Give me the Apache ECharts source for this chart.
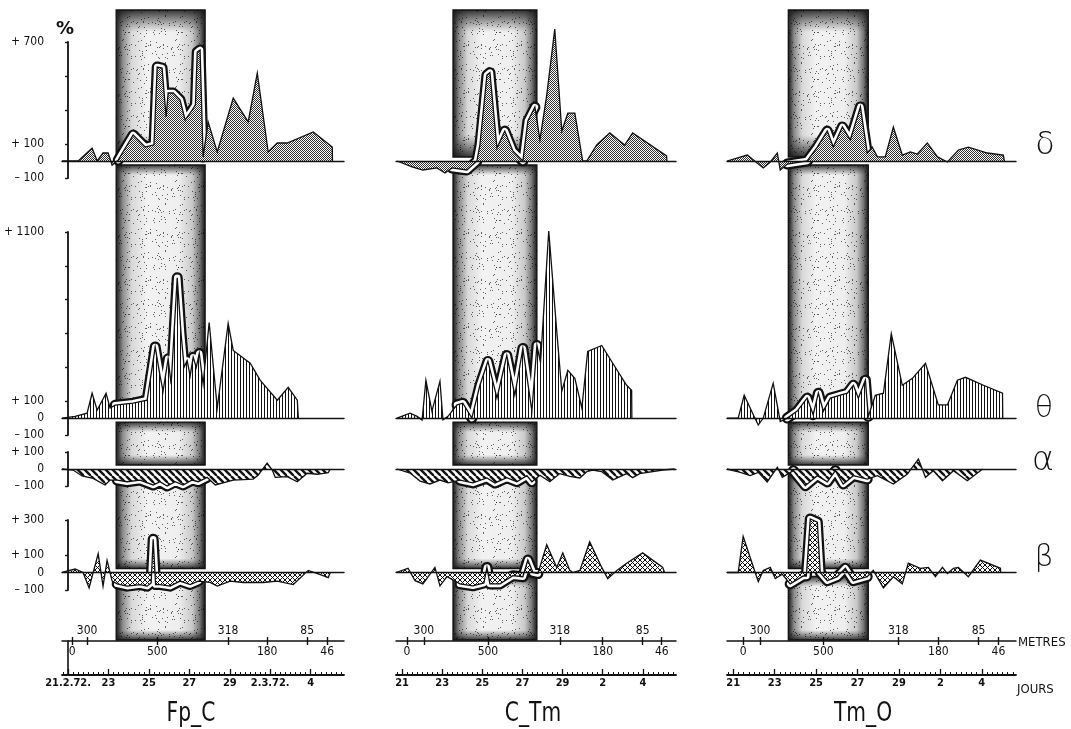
<!DOCTYPE html>
<html>
<head>
<meta charset="utf-8">
<script src="https://cdn.jsdelivr.net/npm/echarts@6/dist/echarts.min.js"></script>
<style>
  html, body { margin: 0; padding: 0; background: #fff; }
  #chart { width: 1071px; height: 729px; }
</style>
</head>
<body>
<div id="chart"></div>
<script>
// ---------------------------------------------------------------------------
// Data. x = days counted from 21.2.72 (day 0), y = % change of band power.
// ---------------------------------------------------------------------------
const stations = ['Fp_C', 'C_Tm', 'Tm_O'];
const rhythms = ['δ', 'θ', 'α', 'β'];

// shaded period (days) for each station
const periodStart = [2.38, 2.54, 2.66];
const periodEnd = [6.78, 6.72, 6.52];

// --- Fp_C
const deltaFpC = [[-0.3,0],[0.5,0],[1.19,76],[1.44,0],[1.73,47],[1.98,47],[2.18,-24],[2.48,5],[3.22,153],[3.81,82],[4.25,95],[4.41,553],[4.65,547],[4.85,259],[4.95,400],[5.2,400],[5.54,359],[5.79,241],[6.14,300],[6.3,330],[6.39,641],[6.53,653],[6.68,24],[6.93,230],[7.38,53],[8.17,370],[8.91,230],[9.36,517],[9.9,53],[10.35,106],[10.84,106],[12.13,171],[13.07,82],[13.08,0]];
const thetaFpC = [[-0.3,0],[0.35,10],[0.94,29],[1.19,147],[1.44,47],[1.88,147],[2.08,59],[2.33,76],[3.22,88],[3.91,106],[4.16,300],[4.31,420],[4.55,250],[4.7,160],[4.95,350],[5.1,200],[5.25,520],[5.4,829],[5.59,500],[5.74,300],[5.89,340],[6.04,250],[6.19,360],[6.34,300],[6.49,382],[6.68,200],[6.98,565],[7.38,60],[7.92,559],[8.17,400],[8.37,382],[9.01,324],[9.5,224],[10.35,106],[10.89,182],[11.34,106],[11.39,0]];
const alphaFpC = [[-0.3,0],[0.25,-6],[0.69,-41],[1.24,-55],[1.83,-94],[2.08,-65],[2.43,-65],[2.92,-75],[3.56,-65],[4.21,-94],[4.55,-75],[4.9,-100],[5.3,-75],[5.69,-94],[6.14,-65],[6.44,-75],[6.88,-49],[7.28,-94],[8.17,-65],[9.16,-59],[9.41,-35],[9.85,35],[10.1,-6],[10.25,-49],[10.84,-45],[11.34,-75],[11.83,-25],[12.33,-31],[12.87,-22],[12.97,0]];
const betaFpC = [[-0.3,0],[0.35,20],[0.74,0],[1.04,-88],[1.49,108],[1.73,-78],[1.93,69],[2.18,-49],[2.43,-65],[2.92,-78],[3.56,-69],[3.91,-78],[4.11,-60],[4.21,190],[4.33,-69],[4.55,-69],[5.05,-78],[5.54,-49],[6.04,-69],[6.44,-49],[7.03,-57],[7.38,-78],[8.02,-49],[8.66,-57],[9.65,-57],[10.35,-49],[11.14,-69],[11.88,12],[12.48,-12],[12.87,-29],[12.97,0]];

// --- C_Tm
const deltaCTm = [[-0.25,0],[0.5,-35],[1.04,-53],[1.74,-41],[2.14,-71],[2.49,-41],[3.23,-53],[3.73,0],[3.88,94],[4.23,506],[4.38,520],[4.73,76],[5.12,176],[5.52,59],[6.02,0],[6.27,235],[6.62,317],[6.87,124],[7.21,388],[7.61,776],[7.96,176],[8.26,282],[8.61,282],[9.0,0],[9.2,0],[9.7,94],[10.35,165],[11.09,94],[11.49,165],[13.18,30],[13.2,0]];
const thetaCTm = [[-0.25,0],[0.4,29],[0.75,10],[1.0,-12],[1.19,224],[1.49,41],[1.89,218],[2.04,-10],[2.29,10],[2.74,78],[3.03,88],[3.48,0],[3.88,194],[4.28,335],[4.73,118],[5.22,370],[5.62,135],[6.02,412],[6.47,41],[6.72,429],[6.9,330],[7.31,1106],[7.71,512],[7.96,159],[8.26,282],[8.61,235],[8.96,59],[9.25,394],[9.95,429],[10.5,324],[11.19,194],[11.44,165],[11.45,0]];
const alphaCTm = [[-0.25,0],[0.4,-24],[0.9,-71],[1.39,-88],[1.89,-65],[2.29,-82],[2.89,-65],[3.53,-82],[4.23,-53],[4.63,-82],[5.22,-51],[5.72,-75],[6.22,-39],[6.47,-75],[6.87,-37],[7.36,-75],[7.86,-27],[8.36,-43],[8.86,-53],[9.2,-16],[9.5,-6],[9.95,-16],[10.5,-65],[11.19,-27],[11.49,-51],[11.84,-27],[12.99,-6],[13.58,0]];
const betaCTm = [[-0.3,0],[0.3,24],[0.65,-47],[1.04,-65],[1.64,29],[1.89,-76],[2.24,-24],[2.89,-65],[3.53,-76],[4.08,-60],[4.23,29],[4.38,-65],[4.88,-65],[5.52,-18],[6.02,-24],[6.27,71],[6.52,0],[6.77,-6],[7.21,159],[7.71,29],[8.01,112],[8.36,12],[8.51,0],[8.86,12],[9.35,176],[9.95,29],[10.25,-35],[10.7,12],[11.19,53],[11.99,112],[12.99,29],[13.08,0]];

// --- Tm_O
const deltaTmO = [[-0.3,0],[0.68,35],[1.45,-41],[1.79,-6],[2.13,47],[2.27,-53],[2.61,-18],[3.57,0],[4.06,82],[4.54,176],[4.83,82],[5.27,200],[5.65,124],[6.14,318],[6.47,47],[6.71,82],[6.96,24],[7.34,24],[7.73,200],[8.16,35],[8.55,53],[8.89,41],[9.37,106],[9.86,24],[10.34,-6],[10.87,65],[11.35,82],[12.27,47],[13.04,35],[13.09,0]];
const thetaTmO = [[-0.3,0],[0.24,0],[0.53,135],[0.97,20],[1.21,-41],[1.45,0],[1.93,206],[2.27,-20],[2.61,0],[3.09,41],[3.57,118],[3.86,20],[4.11,147],[4.35,41],[4.69,118],[5.17,135],[5.51,147],[5.8,194],[6.04,118],[6.38,224],[6.52,10],[6.86,135],[7.25,147],[7.63,500],[8.16,194],[8.65,235],[9.28,324],[9.9,78],[10.34,78],[10.82,224],[11.21,241],[12.08,194],[13.0,147],[13.01,0]];
const alphaTmO = [[-0.3,0],[0.34,-20],[0.82,-39],[1.21,-20],[1.64,-76],[2.13,10],[2.37,-49],[2.9,-10],[3.48,-98],[4.06,-39],[4.54,-76],[4.93,-10],[5.31,-88],[5.8,-39],[6.47,-59],[6.96,-39],[7.73,-88],[8.41,-29],[8.94,59],[9.28,-49],[9.66,-10],[10.1,-69],[10.63,-10],[11.3,-69],[11.93,-10],[12.03,0]];
const betaTmO = [[-0.3,0],[0.24,0],[0.48,206],[1.06,0],[1.21,-53],[1.45,12],[1.79,29],[2.03,-35],[2.37,-10],[2.75,-65],[3.38,-20],[3.53,-20],[3.72,306],[4.06,288],[4.2,0],[4.54,-47],[5.02,-24],[5.41,24],[5.8,-47],[6.47,-24],[6.76,12],[7.25,-88],[7.73,-24],[8.16,-65],[8.45,53],[9.03,24],[9.42,29],[9.76,-24],[10.1,29],[10.34,-6],[10.63,24],[10.87,29],[11.35,-24],[11.93,71],[12.9,24],[12.91,0]];

// y scales per rhythm
const yRanges = [[-100, 700], [-100, 1100], [-100, 100], [-100, 300]];
const yLabelValues = [[-100, 0, 100, 700], [-100, 0, 100, 1100], [-100, 0, 100], [-100, 0, 100, 300]];
const yTickValues = [[-100, 100, 300, 500, 700], [-100, 100, 300, 500, 700, 900, 1100], [-100, 100], [-100, 100, 300]];

// distance scale (metres) under each station
const metreLabels = ['0', '300', '500', '318', '180', '85', '46'];
const metrePosFpC = [0.2, 0.94, 4.41, 7.92, 9.85, 11.83, 12.82];
const metrePosCTm = [0.25, 1.09, 4.28, 7.86, 10.0, 11.99, 12.94];
const metrePosTmO = [0.48, 1.30, 4.35, 7.97, 9.90, 11.84, 12.80];

// day scale
const dayTicks = [0, 2, 4, 6, 8, 10, 12];
const dayLabelsFpC = ['21.2.72.', '23', '25', '27', '29', '2.3.72.', '4'];
const dayLabels = ['21', '23', '25', '27', '29', '2', '4'];

// ---------------------------------------------------------------------------
const panels = [
  [deltaFpC, deltaCTm, deltaTmO],
  [thetaFpC, thetaCTm, thetaTmO],
  [alphaFpC, alphaCTm, alphaTmO],
  [betaFpC, betaCTm, betaTmO]
];
const metrePos = [metrePosFpC, metrePosCTm, metrePosTmO];
const dayLabelSets = [dayLabelsFpC, dayLabels, dayLabels];

const FONT = "'DejaVu Sans Condensed', 'Liberation Sans Narrow', 'DejaVu Sans', sans-serif";
const X_MIN = -0.3, X_MAX = 13.65;
const rowLayout = [
  { top: 42, height: 136 },
  { top: 232, height: 203 },
  { top: 452, height: 34 },
  { top: 520, height: 70 }
];
const colLayout = [
  { left: 62, width: 282 },
  { left: 396, width: 280 },
  { left: 727, width: 289 }
];
const scaleTop = 641, scaleHeight = 34;

// fill textures
function pattern(w, h, draw, transparent) {
  const cv = document.createElement('canvas');
  cv.width = w; cv.height = h;
  const g = cv.getContext('2d');
  if (!transparent) { g.fillStyle = '#fff'; g.fillRect(0, 0, w, h); }
  draw(g, w, h);
  return { image: cv, repeat: 'repeat' };
}
const stipple = pattern(4, 4, g => {
  g.fillStyle = '#333';
  [[0,0],[2,0],[1,1],[3,1],[0,2],[2,2],[3,3],[1,3]].forEach(p => g.fillRect(p[0], p[1], 1, 1));
});
const vertHatch = pattern(3, 4, g => { g.fillStyle = '#111'; g.fillRect(0, 0, 1, 4); });
const diagHatch = pattern(7, 7, g => {
  g.strokeStyle = '#111'; g.lineWidth = 2.4;
  [-7, 0, 7].forEach(k => { g.beginPath(); g.moveTo(k, 0); g.lineTo(k + 7, 7); g.stroke(); });
});
const crossHatch = pattern(5, 5, g => {
  g.strokeStyle = '#111'; g.lineWidth = 1;
  [-5, 0, 5].forEach(k => {
    g.beginPath(); g.moveTo(k, 0); g.lineTo(k + 5, 5); g.stroke();
    g.beginPath(); g.moveTo(k + 5, 0); g.lineTo(k, 5); g.stroke();
  });
});
const grain = pattern(53, 47, g => {
  g.fillStyle = 'rgba(0,0,0,0.6)';
  for (let i = 0; i < 110; i++) {
    const x = (i * 37 + (i * i) % 11) % 53;
    const y = (i * 29 + (i * i * 7) % 17) % 47;
    g.fillRect(x, y, 1, 1);
  }
}, true);
const rowFills = [stipple, vertHatch, diagHatch, crossHatch];

function signed(v) {
  if (v > 0) return '+ ' + v;
  if (v < 0) return '– ' + (-v);
  return '0';
}
function lookup(positions, labels) {
  return v => {
    const i = positions.findIndex(p => Math.abs(p - v) < 1e-6);
    return i >= 0 ? labels[i] : '';
  };
}

const grids = [], xAxes = [], yAxes = [], series = [];

rowLayout.forEach((rl, r) => {
  colLayout.forEach((cl, c) => {
    const k = grids.length;
    grids.push({ left: cl.left, width: cl.width, top: rl.top, height: rl.height });
    xAxes.push({
      gridIndex: k, type: 'value', min: X_MIN, max: X_MAX, z: 6,
      axisLine: { show: true, onZero: true, lineStyle: { color: '#111', width: 1.4 } },
      axisTick: { show: false }, axisLabel: { show: false }, splitLine: { show: false }
    });
    yAxes.push({
      gridIndex: k, type: 'value', min: yRanges[r][0], max: yRanges[r][1], show: c === 0,
      axisLine: { show: true, lineStyle: { color: '#111', width: 1.8 } },
      axisTick: { show: true, length: 3, customValues: yTickValues[r], lineStyle: { color: '#111', width: 1.4 } },
      axisLabel: { show: true, customValues: yLabelValues[r], margin: 18, formatter: signed,
                   color: '#111', fontSize: 12, fontFamily: FONT },
      splitLine: { show: false }
    });
    const data = panels[r][c];
    const inPeriod = data.filter(p => p[0] >= periodStart[c] - 0.12 && p[0] <= periodEnd[c] + 0.12);
    // outlined white edge along the curve inside the shaded period
    series.push({
      type: 'line', xAxisIndex: k, yAxisIndex: k, data: inPeriod, symbol: 'none',
      clip: false, silent: true, z: 3,
      lineStyle: { color: '#111', width: 11, join: 'round', cap: 'round' }
    });
    series.push({
      type: 'line', xAxisIndex: k, yAxisIndex: k, data: inPeriod, symbol: 'none',
      clip: false, silent: true, z: 4,
      lineStyle: { color: '#fff', width: 6.5, join: 'round', cap: 'round' }
    });
    series.push({
      name: rhythms[r] + ' ' + stations[c],
      type: 'line', xAxisIndex: k, yAxisIndex: k, data: data, symbol: 'none',
      clip: false, silent: true, z: 5,
      lineStyle: { color: '#111', width: 1.3, join: 'miter' },
      areaStyle: { color: rowFills[r], opacity: 1 }
    });
  });
});

// distance / day scales under each column
const quarterDays = [];
for (let d = -0.25; d <= 13.5; d += 0.25) quarterDays.push(+d.toFixed(2));

colLayout.forEach((cl, c) => {
  const k = grids.length;
  grids.push({ left: cl.left, width: cl.width, top: scaleTop, height: scaleHeight });
  yAxes.push({
    gridIndex: k, type: 'value', min: 0, max: 1, show: c === 0,
    axisLine: { show: true, lineStyle: { color: '#111', width: 1.6 } },
    axisTick: { show: false }, axisLabel: { show: false }, splitLine: { show: false }
  });
  const mp = metrePos[c];
  const above = mp.filter((_, i) => i % 2 === 1);
  const below = mp.filter((_, i) => i % 2 === 0);
  const fmtM = lookup(mp, metreLabels);
  xAxes.push({
    gridIndex: k, type: 'value', position: 'top', min: X_MIN, max: X_MAX, z: 6,
    axisLine: { show: true, onZero: false, lineStyle: { color: '#111', width: 1.5 } },
    axisTick: { show: true, customValues: mp, length: 4, lineStyle: { color: '#111', width: 1.4 } },
    axisLabel: { customValues: above, formatter: fmtM, margin: 4, color: '#111', fontSize: 12, fontFamily: FONT },
    splitLine: { show: false }
  });
  xAxes.push({
    gridIndex: k, type: 'value', position: 'top', min: X_MIN, max: X_MAX, z: 6,
    axisLine: { show: false, onZero: false },
    axisTick: { show: true, inside: true, customValues: mp, length: 4, lineStyle: { color: '#111', width: 1.4 } },
    axisLabel: { inside: true, customValues: below, formatter: fmtM, margin: 5, color: '#111', fontSize: 12, fontFamily: FONT },
    splitLine: { show: false }
  });
  const fmtD = lookup(dayTicks, dayLabelSets[c]);
  xAxes.push({
    gridIndex: k, type: 'value', position: 'bottom', min: X_MIN, max: X_MAX, z: 6,
    axisLine: { show: true, onZero: false, lineStyle: { color: '#111', width: 1.8 } },
    axisTick: { show: true, inside: true, customValues: quarterDays, length: 3, lineStyle: { color: '#111', width: 1 } },
    axisLabel: { customValues: dayTicks, formatter: fmtD, margin: 3, color: '#111', fontSize: 11,
                 fontWeight: 'bold', fontFamily: FONT },
    splitLine: { show: false }
  });
  xAxes.push({
    gridIndex: k, type: 'value', position: 'bottom', min: X_MIN, max: X_MAX, z: 6,
    axisLine: { show: false, onZero: false },
    axisTick: { show: true, inside: true, customValues: dayTicks, length: 6, lineStyle: { color: '#111', width: 1.3 } },
    axisLabel: { show: false }, splitLine: { show: false }
  });
});

const chart = echarts.init(document.getElementById('chart'), null, { renderer: 'canvas' });
chart.setOption({
  animation: false,
  backgroundColor: '#fff',
  grid: grids, xAxis: xAxes, yAxis: yAxes, series: series
});

// ---------------------------------------------------------------------------
// Shaded period stripes (broken at each zero line) and text labels
// ---------------------------------------------------------------------------
const stripeFill = {
  type: 'linear', x: 0, y: 0, x2: 1, y2: 0,
  colorStops: [
    { offset: 0, color: '#141414' }, { offset: 0.03, color: '#3c3c3c' },
    { offset: 0.08, color: '#8c8c8c' }, { offset: 0.18, color: '#d8d8d8' },
    { offset: 0.35, color: '#f2f2f2' }, { offset: 0.7, color: '#eeeeee' },
    { offset: 0.85, color: '#c8c8c8' }, { offset: 0.93, color: '#7a7a7a' },
    { offset: 0.975, color: '#333' }, { offset: 1, color: '#111' }
  ]
};
function fade(down) {
  return {
    type: 'linear', x: 0, y: 0, x2: 0, y2: 1,
    colorStops: down
      ? [{ offset: 0, color: 'rgba(20,20,20,0.85)' }, { offset: 1, color: 'rgba(60,60,60,0)' }]
      : [{ offset: 0, color: 'rgba(60,60,60,0)' }, { offset: 1, color: 'rgba(20,20,20,0.85)' }]
  };
}

const elements = [];
for (let c = 0; c < 3; c++) {
  const x0 = chart.convertToPixel({ xAxisIndex: c }, periodStart[c]);
  const x1 = chart.convertToPixel({ xAxisIndex: c }, periodEnd[c]);
  const w = x1 - x0;
  const edges = [rowLayout[0].top - 32];
  for (let r = 0; r < 4; r++) {
    const z = chart.convertToPixel({ yAxisIndex: r * 3 + c }, 0);
    edges.push(z - 4, z + 4);
  }
  edges.push(chart.convertToPixel({ yAxisIndex: 12 + c }, 1) - 1);
  for (let i = 0; i < edges.length; i += 2) {
    const y0 = edges[i], h = edges[i + 1] - edges[i];
    if (h <= 0) continue;
    const e = Math.min(i === 0 ? 22 : 10, h * 0.3);
    elements.push({ type: 'rect', silent: true, z: 1, shape: { x: x0, y: y0, width: w, height: h },
                    style: { fill: stripeFill, stroke: '#111', lineWidth: 1.3 } });
    elements.push({ type: 'rect', silent: true, z: 1, shape: { x: x0, y: y0, width: w, height: e },
                    style: { fill: fade(true) } });
    elements.push({ type: 'rect', silent: true, z: 1, shape: { x: x0, y: y0 + h - e, width: w, height: e },
                    style: { fill: fade(false) } });
    elements.push({ type: 'rect', silent: true, z: 1, shape: { x: x0, y: y0, width: w, height: h },
                    style: { fill: grain } });
  }
}

function label(text, x, y, size, opts) {
  opts = opts || {};
  elements.push({
    type: 'text', x: x, y: y, z: 10, silent: true, scaleX: opts.scaleX || 1,
    style: {
      text: text, fontSize: size, fontFamily: opts.family || "'DejaVu Sans', sans-serif",
      fontWeight: opts.weight || 'normal', fill: '#111',
      align: opts.align || 'center', textAlign: opts.align || 'center',
      verticalAlign: 'middle', textVerticalAlign: 'middle'
    }
  });
}
label('%', 65, 29, 18, { weight: 'bold' });
label('δ', 1045, 146, 32, { weight: 200 });
label('θ', 1044, 409, 30, { weight: 200 });
label('α', 1043, 461, 34, { weight: 200 });
label('β', 1044, 558, 30, { weight: 200 });
label('Fp_C', 191, 714, 27, { scaleX: 0.75 });
label('C_Tm', 533, 714, 27, { scaleX: 0.75 });
label('Tm_O', 863, 714, 27, { scaleX: 0.75 });
label('METRES', 1018, 643, 13, { align: 'left', family: FONT });
label('JOURS', 1017, 690, 13, { align: 'left', family: FONT });

chart.setOption({ graphic: { elements: elements } });
</script>
</body>
</html>
